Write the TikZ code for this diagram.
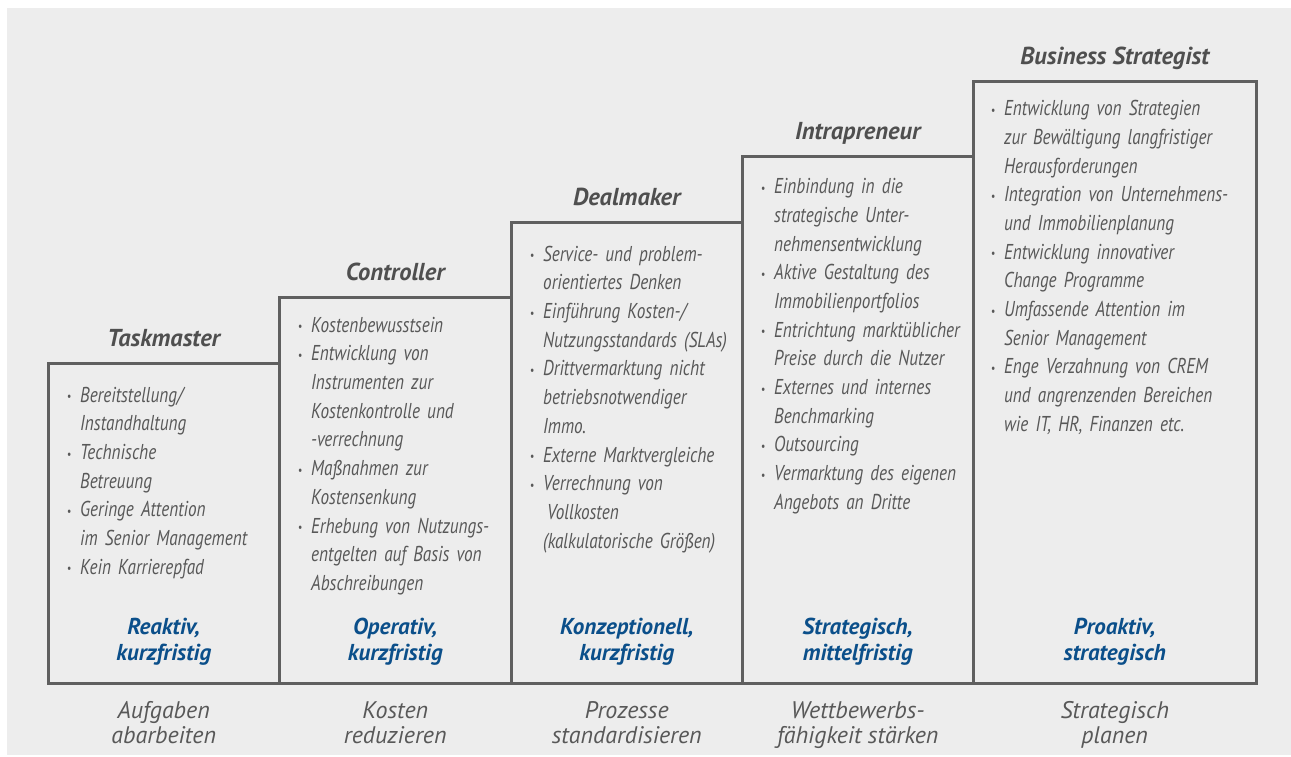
\documentclass[tikz,border=0pt]{standalone}
\usepackage{fontspec}
\setmainfont{PT Sans}
\newfontfamily\condf[FakeStretch=0.8,WordSpace=0.8]{PT Sans}
\definecolor{bggray}{HTML}{EDEDED}
\definecolor{boxgray}{HTML}{5F5F5F}
\definecolor{txtgray}{HTML}{585858}
\definecolor{titlegray}{HTML}{4F4F4F}
\definecolor{modeblue}{HTML}{0B4F8A}
\newcommand{\bul}{\makebox[0pt][r]{\raisebox{1.5pt}{\fontsize{12}{12}\selectfont\textbullet}\hspace{9pt}}}
\tikzset{
  stagebox/.style={draw=boxgray, line width=2.5pt, rectangle, inner sep=0pt, anchor=north west},
  stagetitle/.style={font=\fontsize{24.5}{28}\selectfont\bfseries\itshape, text=titlegray, anchor=base, inner sep=0pt},
  items/.style={font=\condf\itshape\fontsize{21.5}{28.7}\selectfont, text=txtgray, anchor=north west, inner sep=0pt, text width=240pt, align=left},
  mode/.style={font=\fontsize{23}{26}\selectfont\bfseries\itshape, text=modeblue, align=center, anchor=north, inner sep=0pt},
  goal/.style={font=\fontsize{24}{25.5}\selectfont\itshape, text=txtgray, align=center, anchor=north, inner sep=0pt},
}
\begin{document}
\begin{tikzpicture}[x=1pt,y=-1pt]
\useasboundingbox (0,0) rectangle (1291,756);
\fill[bggray] (7,8) rectangle (1291,755);

% boxes
\node[stagebox, minimum width=231pt, minimum height=320pt] (b1) at (47,362) {};
\node[stagebox, minimum width=232pt, minimum height=386pt] (b2) at (278,296) {};
\node[stagebox, minimum width=231pt, minimum height=461pt] (b3) at (510,221) {};
\node[stagebox, minimum width=231pt, minimum height=527pt] (b4) at (741,155) {};
\node[stagebox, minimum width=283pt, minimum height=602pt] (b5) at (972,80) {};

% titles
\node[stagetitle] (t1) at ([yshift=15.5pt]b1.north) {Taskmaster};
\node[stagetitle] (t2) at ([yshift=15.5pt]b2.north) {Controller};
\node[stagetitle] (t3) at ([yshift=15.5pt]b3.north) {Dealmaker};
\node[stagetitle] (t4) at ([yshift=15.5pt]b4.north) {Intrapreneur};
\node[stagetitle] (t5) at ([yshift=15.5pt]b5.north) {Business Strategist};

% bullet lists
\node[items] (l1) at (80,381.9) {\noindent\strut\bul Bereitstellung/\\
Instandhaltung\\
\bul Technische\\
Betreuung\\
\bul Geringe Attention\\
im Senior Management\\
\bul Kein Karrierepfad};

\node[items] (l2) at (311,311.9) {\noindent\strut\bul Kostenbewusstsein\\
\bul Entwicklung von\\
Instrumenten zur\\
Kostenkontrolle und\\
-verrechnung\\
\bul Maßnahmen zur\\
Kostensenkung\\
\bul Erhebung von Nutzungs-\\
entgelten auf Basis von\\
Abschreibungen};

\node[items] (l3) at (543,240.9) {\noindent\strut\bul Service- und problem-\\
orientiertes Denken\\
\bul Einführung Kosten-/\\
Nutzungsstandards (SLAs)\\
\bul Drittvermarktung nicht\\
betriebsnotwendiger\\
Immo.\\
\bul Externe Marktvergleiche\\
\bul Verrechnung von\\
\hspace*{4pt}Vollkosten\\
(kalkulatorische Größen)};

\node[items] (l4) at (774,173.4) {\noindent\strut\bul Einbindung in die\\
strategische Unter-\\
nehmensentwicklung\\
\bul Aktive Gestaltung des\\
Immobilienportfolios\\
\bul Entrichtung marktüblicher\\
Preise durch die Nutzer\\
\bul Externes und internes\\
Benchmarking\\
\bul Outsourcing\\
\bul Vermarktung des eigenen\\
Angebots an Dritte};

\node[items] (l5) at (1004,95.4) {\noindent\strut\bul Entwicklung von Strategien\\
zur Bewältigung langfristiger\\
Herausforderungen\\
\bul Integration von Unternehmens-\\
und Immobilienplanung\\
\bul Entwicklung innovativer\\
Change Programme\\
\bul Umfassende Attention im\\
Senior Management\\
\bul Enge Verzahnung von CREM\\
und angrenzenden Bereichen\\
wie IT, HR, Finanzen etc.};

% modes (blue)
\node[mode] (m1) at (b1.center |- 0,615.8) {\strut Reaktiv,\\kurzfristig};
\node[mode] (m2) at (b2.center |- 0,615.8) {\strut Operativ,\\kurzfristig};
\node[mode] (m3) at (b3.center |- 0,615.8) {\strut Konzeptionell,\\kurzfristig};
\node[mode] (m4) at (b4.center |- 0,615.8) {\strut Strategisch,\\mittelfristig};
\node[mode] (m5) at (b5.center |- 0,615.8) {\strut Proaktiv,\\strategisch};

% goals
\node[goal] (g1) at (b1.center |- 0,700.2) {\strut Aufgaben\\abarbeiten};
\node[goal] (g2) at (b2.center |- 0,700.2) {\strut Kosten\\reduzieren};
\node[goal] (g3) at (b3.center |- 0,700.2) {\strut Prozesse\\standardisieren};
\node[goal] (g4) at (b4.center |- 0,700.2) {\strut Wettbewerbs-\\fähigkeit stärken};
\node[goal] (g5) at (b5.center |- 0,700.2) {\strut Strategisch\\planen};
\end{tikzpicture}
\end{document}
